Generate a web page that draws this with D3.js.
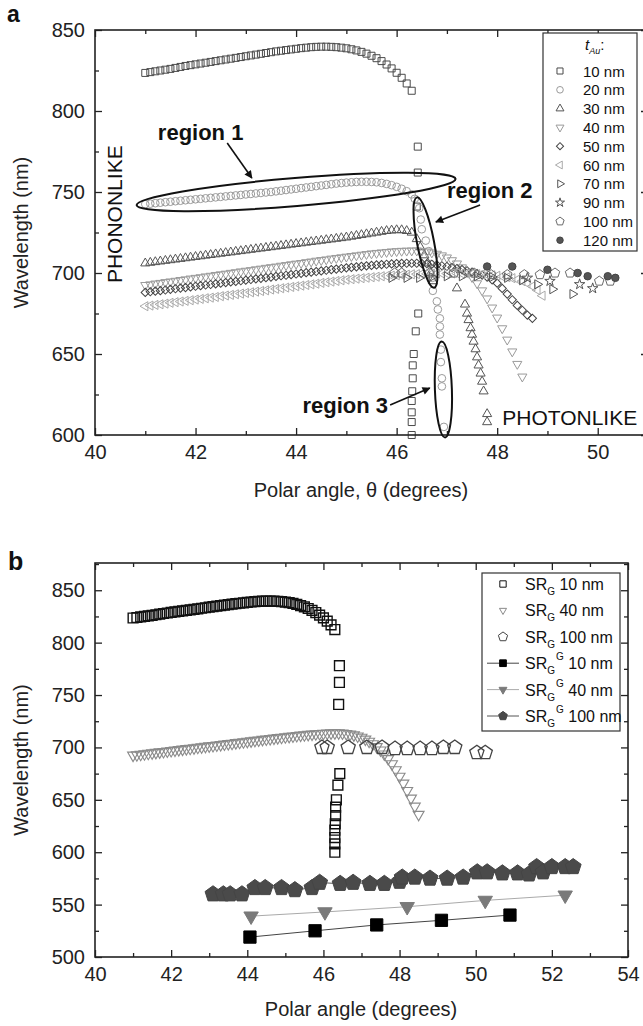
<!DOCTYPE html>
<html><head><meta charset="utf-8">
<script src="https://cdnjs.cloudflare.com/ajax/libs/d3/7.8.5/d3.min.js"></script>
<style>
html,body{margin:0;padding:0;background:#fff;}
svg{display:block;font-family:"Liberation Sans",Arial,Helvetica,sans-serif;}
</style></head><body>
<svg id="chart" width="643" height="1026"></svg>
<script>
// ---------------- DATA ----------------
// shared angle grid (degrees) for the densely sampled dispersion curves
const gridAngles = [
41.0,41.1,41.2,41.3,41.4,41.5,41.6,41.7,41.8,41.9,
42.0,42.1,42.2,42.3,42.4,42.5,42.6,42.7,42.8,42.9,
43.0,43.1,43.2,43.3,43.4,43.5,43.6,43.7,43.8,43.9,
44.0,44.1,44.2,44.3,44.4,44.5,44.6,44.7,44.8,44.9,
45.0,45.1,45.2,45.3,45.4,45.5,45.6,45.7,45.8,45.9,
46.0,46.1,46.2,46.3,46.4,46.5,46.6,46.7,46.8,46.9,
47.0,47.1,47.2,47.3,47.4,47.5,47.6,47.7,47.8,47.9,
48.0,48.1,48.2,48.3,48.4,48.5,48.6,48.7,48.8,48.9];

// t_Au = 10 nm (phononlike branch on grid, then the steep branch)
const wl10 = [
823.5,824,824.5,825,825.5,826,826.6,827.2,827.8,828.3,
828.8,829.3,829.8,830.3,830.8,831.3,831.8,832.3,832.8,833.3,
833.8,834.3,834.8,835.3,835.8,836.3,836.8,837.2,837.6,838,
838.4,838.8,839.1,839.4,839.6,839.7,839.7,839.6,839.4,839.1,
838.7,838.1,837.4,836.5,835.4,834.1,832.6,830.8,828.7,826.3,
823.6,820.5,817,812.5];
const tail10Angles = [46.42,46.42,46.4,46.43,46.38,46.34,46.32,46.32,46.31,46.3,46.3,46.3,46.3];
const tail10Wl = [778,762,741,675,664,650,643,635,627,621,614,608,600];

// 20 nm
const wl20 = [
742.5,742.8,743.1,743.4,743.7,744,744.3,744.6,744.9,745.2,
745.5,745.8,746.1,746.4,746.7,747,747.3,747.6,747.9,748.2,
748.5,748.8,749.1,749.4,749.7,750,750.4,750.8,751.2,751.6,
752,752.4,752.8,753.2,753.6,754,754.4,754.8,755.2,755.5,
755.8,756,756.2,756.3,756.3,756.2,756,755.6,755,754.2,
753.2,752,750.5,748.5];
const tail20Angles = [46.36,46.45,46.48,46.5,46.58,46.64,46.68,46.71,46.72,46.8,46.82,46.86,46.86,46.86,46.88,46.88,46.9,46.9,46.94];
const tail20Wl = [745.8,740,733,727,720,713.5,705.5,697,689,682.5,677.5,672,667,662,652.7,645,635,630,605];

// 30 nm
const wl30 = [
706,706.4,706.8,707.2,707.6,708,708.4,708.8,709.2,709.6,
710,710.4,710.8,711.2,711.6,712,712.4,712.8,713.2,713.6,
714,714.4,714.8,715.2,715.6,716,716.4,716.8,717.2,717.6,
718,718.4,718.8,719.2,719.6,720,720.4,720.8,721.2,721.6,
722,722.5,723,723.5,724,724.5,725,725.5,726,726.3,
726.5,726.5,726,725];
const tail30Angles = [46.4,46.47,46.55,46.62,46.68,46.72,47.2,47.36,47.4,47.43,47.47,47.5,47.53,47.57,47.6,47.63,47.67,47.7,47.73,47.8,47.8];
const tail30Wl = [721,716,711,706,700,695,690.6,680.6,675,671,666,662,657.7,653,648,643,638,633,627,613,608];

// 40 nm
const wl40 = [
692.5,692.9,693.4,693.8,694.3,694.7,695.1,695.6,696,696.5,
696.9,697.3,697.8,698.2,698.7,699.1,699.5,700,700.4,700.9,
701.3,701.7,702.2,702.6,703.1,703.5,703.9,704.4,704.8,705.3,
705.7,706.1,706.6,707,707.5,707.9,708.3,708.8,709.2,709.6,
710,710.4,710.8,711.2,711.6,712,712.3,712.6,712.9,713.2,
713.4,713.6,713.7,713.8,713.8,713.6,713.2,712.6,711.8,710.8,
709.5,707.8,705.8,703.4,700.6,697.4,693.6,689.2,684.2,678.6,
672.4,665.8,658.8,651.5,643.8,636];

// 50 nm
const wl50 = [
688,688.4,688.8,689.1,689.5,689.9,690.3,690.7,691,691.4,
691.8,692.2,692.6,692.9,693.3,693.7,694.1,694.5,694.8,695.2,
695.6,696,696.4,696.7,697.1,697.5,697.9,698.3,698.6,699,
699.4,699.8,700.2,700.5,700.9,701.3,701.7,702.1,702.4,702.8,
703.2,703.5,703.8,704.1,704.4,704.7,705,705.2,705.4,705.6,
705.8,705.9,706,706,706,705.9,705.7,705.4,705,704.5,
704,703.4,702.8,702.1,701.4,700.6,699.7,698.7,697.5,695.8,
693.7,690.5,687,683.5,680,677,674,672];

// 60 nm
const wl60 = [
679.5,679.9,680.3,680.7,681.1,681.6,682,682.4,682.8,683.2,
683.6,684,684.4,684.8,685.2,685.7,686.1,686.5,686.9,687.3,
687.7,688.1,688.5,688.9,689.3,689.8,690.2,690.6,691,691.4,
691.8,692.2,692.6,693,693.4,693.9,694.3,694.7,695.1,695.5,
695.9,696.2,696.5,696.8,697.1,697.4,697.7,698,698.2,698.4,
698.6,698.8,699,699.2,699.3,699.4,699.5,699.6,699.7,699.7,
699.7,699.7,699.7,699.6,699.5,699.4,699.3,699.1,698.9,698.6,
698.3,697.9,697.4,696.8,696,695,693.6,691.8,689.4,686];

// 70 nm
const angles70 = [45.9,46.2,46.45,46.7,47.0,47.3,47.6,47.9,48.2,48.5,48.8,49.1,49.5];
const wl70 = [697,697,697,697.5,698,698,698,697.5,697,695.5,693,690,687];
// 90 nm
const angles90 = [48.6,49.05,49.64,49.9];
const wl90 = [697,695,693,690.5];
// 100 nm
const angles100 = [45.96,46.1,46.65,47.14,47.54,47.88,48.2,48.54,48.85,49.15,49.45,50.03,50.25];
const wl100 = [700,700,700,700,700,699,699,699,699,700,700,695,695];
// 120 nm
const angles120 = [47.8,48.3,49.0,49.6,49.8,50.2,50.35];
const wl120 = [704,704,702,700,698,698,697];

// panel b : SR_G^G series
const angGG10 = [44.07,45.78,47.4,49.1,50.9];
const wlGG10 = [519,525,530.6,535,540];
const angGG40 = [44.1,46.04,48.2,50.25,52.35];
const wlGG40 = [539,543,548,554,559];
const angGG100 = [43.1,43.37,43.55,43.86,44.2,44.47,44.9,45.25,45.7,45.9,46.44,46.78,47.22,47.6,48.0,48.07,48.4,48.8,49.25,49.67,50.04,50.3,50.7,51.1,51.4,51.6,51.77,52.0,52.35,52.56];
const wlGG100 = [560,560,560,560,566,566,566,564,566,571,570,571,570,570,572,576,576,575,575,576,581,581,580,580,579,586,581,586,586,586];

const legendA = ["10 nm","20 nm","30 nm","40 nm","50 nm","60 nm","70 nm","90 nm","100 nm","120 nm"];
const legendB = [" 10 nm"," 40 nm"," 100 nm"," 10 nm"," 40 nm"," 100 nm"];
const xTicksA = [40,42,44,46,48,50];
const xMinorA = [41,43,45,47,49,51];
const yTicksA = [600,650,700,750,800,850];
const yMinorA = [625,675,725,775,825];
const xTicksB = [40,42,44,46,48,50,52,54];
const xMinorB = [41,43,45,47,49,51,53];
const yTicksB = [500,550,600,650,700,750,800,850];
const yMinorB = [525,575,625,675,725,775,825,875];

// ---------------- DRAWING ----------------
const svg = d3.select("#chart");
const A = {left:95, right:648, top:30, bottom:435};
const B = {left:95, right:628, top:563, bottom:957};
const xA = d3.scaleLinear().domain([40,51]).range([A.left,A.right]);
const yA = d3.scaleLinear().domain([600,850]).range([A.bottom,A.top]);
const xB = d3.scaleLinear().domain([40,54]).range([B.left,B.right]);
const yB = d3.scaleLinear().domain([500,876]).range([B.bottom,B.top]);

const pentagon = {draw(ctx,size){const r=Math.sqrt(size);for(let i=0;i<5;i++){const a=-Math.PI/2+i*2*Math.PI/5;const px=r*Math.cos(a),py=r*Math.sin(a);if(i===0)ctx.moveTo(px,py);else ctx.lineTo(px,py);}ctx.closePath();}};

function concat(a,b){return a.concat(b);}

function plotSeries(g,x,y,angles,wls,spec){
  const sym=d3.symbol().type(spec.type).size(spec.size);
  g.append("g").selectAll("path").data(d3.zip(angles,wls)).join("path")
    .attr("d",sym)
    .attr("transform",d=>`translate(${x(d[0])},${y(d[1])}) rotate(${spec.rot||0})`)
    .attr("fill",spec.fill||"none").attr("stroke",spec.stroke).attr("stroke-width",spec.sw||1);
}

function drawAxes(g,x,y,box,xt,xm,yt,ym){
  const fmt=d3.format("d");
  const styleAxis=sel=>{sel.select(".domain").remove();sel.selectAll("line").attr("stroke","#222").attr("stroke-width",1.3);
    sel.selectAll("text").attr("font-size",20).attr("fill","#222").attr("font-family",'"Liberation Sans",Arial,sans-serif');};
  g.append("g").attr("transform",`translate(0,${box.bottom})`).call(d3.axisBottom(x).tickValues(xt).tickSize(-7).tickPadding(10).tickFormat(fmt)).call(styleAxis);
  g.append("g").attr("transform",`translate(0,${box.bottom})`).call(d3.axisBottom(x).tickValues(xm).tickSize(-4).tickFormat("")).call(styleAxis);
  g.append("g").attr("transform",`translate(0,${box.top})`).call(d3.axisTop(x).tickValues(xt).tickSize(-7).tickFormat("")).call(styleAxis);
  g.append("g").attr("transform",`translate(0,${box.top})`).call(d3.axisTop(x).tickValues(xm).tickSize(-4).tickFormat("")).call(styleAxis);
  g.append("g").attr("transform",`translate(${box.left},0)`).call(d3.axisLeft(y).tickValues(yt).tickSize(-7).tickPadding(10).tickFormat(fmt)).call(styleAxis);
  g.append("g").attr("transform",`translate(${box.left},0)`).call(d3.axisLeft(y).tickValues(ym).tickSize(-4).tickFormat("")).call(styleAxis);
  g.append("g").attr("transform",`translate(${box.right},0)`).call(d3.axisRight(y).tickValues(yt).tickSize(-7).tickFormat("")).call(styleAxis);
  g.append("g").attr("transform",`translate(${box.right},0)`).call(d3.axisRight(y).tickValues(ym).tickSize(-4).tickFormat("")).call(styleAxis);
  g.append("rect").attr("x",box.left).attr("y",box.top).attr("width",box.right-box.left).attr("height",box.bottom-box.top)
    .attr("fill","none").attr("stroke","#222").attr("stroke-width",1.6);
}

// marker specs panel a
const specA = [
  {type:d3.symbolSquare,size:49,stroke:"#4a4a4a"},
  {type:d3.symbolCircle,size:46,stroke:"#9a9a9a"},
  {type:d3.symbolTriangle,size:36,stroke:"#555"},
  {type:d3.symbolTriangle,size:36,stroke:"#9a9a9a",rot:180},
  {type:d3.symbolSquare,size:34,stroke:"#444",rot:45},
  {type:d3.symbolTriangle,size:36,stroke:"#aaa",rot:-90},
  {type:d3.symbolTriangle,size:36,stroke:"#555",rot:90},
  {type:d3.symbolStar,size:34,stroke:"#555"},
  {type:pentagon,size:25,stroke:"#6a6a6a"},
  {type:d3.symbolCircle,size:44,stroke:"#444",fill:"#555"}
];

const gA = svg.append("g");
// markers
plotSeries(gA,xA,yA,concat(gridAngles.slice(0,wl10.length),tail10Angles),concat(wl10,tail10Wl),specA[0]);
plotSeries(gA,xA,yA,concat(gridAngles.slice(0,wl20.length),tail20Angles),concat(wl20,tail20Wl),specA[1]);
plotSeries(gA,xA,yA,concat(gridAngles.slice(0,wl30.length),tail30Angles),concat(wl30,tail30Wl),specA[2]);
plotSeries(gA,xA,yA,gridAngles.slice(0,wl40.length),wl40,specA[3]);
plotSeries(gA,xA,yA,gridAngles.slice(0,wl50.length),wl50,specA[4]);
plotSeries(gA,xA,yA,gridAngles.slice(0,wl60.length),wl60,specA[5]);
plotSeries(gA,xA,yA,angles70,wl70,specA[6]);
plotSeries(gA,xA,yA,angles90,wl90,specA[7]);
plotSeries(gA,xA,yA,angles100,wl100,specA[8]);
plotSeries(gA,xA,yA,angles120,wl120,specA[9]);
drawAxes(gA,xA,yA,A,xTicksA,xMinorA,yTicksA,yMinorA);

// annotations panel a
const defs=svg.append("defs");
defs.append("marker").attr("id","arr").attr("viewBox","0 0 10 10").attr("refX",9).attr("refY",5)
  .attr("markerWidth",10).attr("markerHeight",8).attr("markerUnits","userSpaceOnUse").attr("orient","auto")
  .append("path").attr("d","M0,0 L10,5 L0,10 z").attr("fill","#111");

function ellipse(g,cx,cy,rx,ry,rot){
  g.append("ellipse").attr("cx",0).attr("cy",0).attr("rx",rx).attr("ry",ry)
   .attr("transform",`translate(${cx},${cy}) rotate(${rot})`)
   .attr("fill","none").attr("stroke","#111").attr("stroke-width",2);
}
ellipse(gA,xA(44.0),yA(750),160,14,-4.7);
ellipse(gA,xA(46.575),yA(718.8),8.5,46,-10.8);
ellipse(gA,xA(46.93),yA(628.1),8.5,48,-2);

function arrow(g,x1,y1,x2,y2){
  g.append("line").attr("x1",x1).attr("y1",y1).attr("x2",x2).attr("y2",y2)
   .attr("stroke","#111").attr("stroke-width",1.6).attr("marker-end","url(#arr)");
}
arrow(gA,xA(42.63),yA(780.2),xA(43.12),yA(758.6));
arrow(gA,xA(47.66),yA(742),xA(46.78),yA(731.5));
arrow(gA,xA(45.87),yA(618.5),xA(46.66),yA(629));

function label(g,x,y,txt,opts){
  const t=g.append("text").attr("x",x).attr("y",y).text(txt)
   .attr("font-size",opts.size).attr("font-weight",opts.weight||"normal").attr("fill","#111")
   .attr("text-anchor",opts.anchor||"start");
  if(opts.rot) t.attr("transform",`rotate(${opts.rot},${x},${y})`);
  return t;
}
label(gA,xA(41.25),yA(782.1),"region 1",{size:22,weight:"bold"});
label(gA,xA(47.0),yA(746.3),"region 2",{size:22,weight:"bold"});
label(gA,xA(45.83),yA(613.6),"region 3",{size:22,weight:"bold",anchor:"end"});
label(gA,xA(40.54),yA(693.8),"PHONONLIKE",{size:21,rot:-90});
label(gA,xA(48.1),yA(606.2),"PHOTONLIKE",{size:21});

// legend a
const legA=gA.append("g");
legA.append("rect").attr("x",543).attr("y",33).attr("width",94).attr("height",218).attr("fill","#fff").attr("stroke","#333").attr("stroke-width",1.2);
const ttl=legA.append("text").attr("x",585).attr("y",50).attr("fill","#111").attr("font-style","italic");
ttl.append("tspan").attr("font-size",15).text("t");
ttl.append("tspan").attr("font-size",9).attr("dy",4).text("Au");
ttl.append("tspan").attr("font-size",15).attr("dy",-4).attr("font-style","normal").text(":");
legendA.forEach((name,i)=>{
  const yy=71+i*18.8, sp=specA[i];
  legA.append("path").attr("d",d3.symbol().type(sp.type).size(sp.size*0.75)())
    .attr("transform",`translate(560,${yy}) rotate(${sp.rot||0})`)
    .attr("fill",sp.fill||"none").attr("stroke",sp.stroke).attr("stroke-width",1);
  legA.append("text").attr("x",583).attr("y",yy+5.5).attr("font-size",15).attr("fill","#111").text(name);
});

// axis titles panel a
svg.append("text").attr("x",361).attr("y",497).attr("text-anchor","middle").attr("font-size",20).attr("fill","#222").text("Polar angle, θ (degrees)");
svg.append("text").attr("transform",`translate(28,${(A.top+A.bottom)/2}) rotate(-90)`).attr("text-anchor","middle").attr("font-size",20).attr("fill","#222").text("Wavelength (nm)");
svg.append("text").attr("x",7).attr("y",22).attr("font-size",23).attr("font-weight","bold").attr("fill","#111").text("a");

// ---------------- PANEL B ----------------
const gB = svg.append("g");
const specB = [
  {type:d3.symbolSquare,size:96,stroke:"#111",sw:1.4},
  {type:d3.symbolTriangle,size:52,stroke:"#8a8a8a",rot:180,sw:1.1},
  {type:pentagon,size:56,stroke:"#444",sw:1.3},
  {type:d3.symbolSquare,size:150,stroke:"#000",fill:"#000"},
  {type:d3.symbolTriangle,size:90,stroke:"#7a7a7a",fill:"#7a7a7a",rot:180},
  {type:pentagon,size:70,stroke:"#454545",fill:"#4a4a4a"}
];
const lineColB=["#444","#aaa","#555"];
const line=d3.line().x(d=>xB(d[0])).y(d=>yB(d[1]));
gB.append("path").attr("d",line(d3.zip(angGG10,wlGG10))).attr("fill","none").attr("stroke",lineColB[0]).attr("stroke-width",1);
gB.append("path").attr("d",line(d3.zip(angGG40,wlGG40))).attr("fill","none").attr("stroke",lineColB[1]).attr("stroke-width",1);
gB.append("path").attr("d",line(d3.zip(angGG100,wlGG100))).attr("fill","none").attr("stroke",lineColB[2]).attr("stroke-width",1);
plotSeries(gB,xB,yB,concat(gridAngles.slice(0,wl10.length),tail10Angles),concat(wl10,tail10Wl),specB[0]);
plotSeries(gB,xB,yB,gridAngles.slice(0,wl40.length),wl40,specB[1]);
plotSeries(gB,xB,yB,angles100,wl100,specB[2]);
plotSeries(gB,xB,yB,angGG10,wlGG10,specB[3]);
plotSeries(gB,xB,yB,angGG40,wlGG40,specB[4]);
plotSeries(gB,xB,yB,angGG100,wlGG100,specB[5]);
drawAxes(gB,xB,yB,B,xTicksB,xMinorB,yTicksB,yMinorB);

// legend b
const legB=gB.append("g");
legB.append("rect").attr("x",482).attr("y",573).attr("width",138).attr("height",158).attr("fill","#fff").attr("stroke","#333").attr("stroke-width",1.2);
legendB.forEach((name,i)=>{
  const yy=584+i*26.4, sp=specB[i];
  if(i>=3){
    legB.append("line").attr("x1",487).attr("x2",519).attr("y1",yy).attr("y2",yy).attr("stroke",lineColB[i-3]).attr("stroke-width",1);
  }
  legB.append("path").attr("d",d3.symbol().type(sp.type).size(i>=3?sp.size*0.3:sp.size*0.42)())
    .attr("transform",`translate(503,${yy}) rotate(${sp.rot||0})`)
    .attr("fill",sp.fill||"#fff").attr("stroke",sp.stroke).attr("stroke-width",1);
  const t=legB.append("text").attr("x",525).attr("y",yy+6).attr("font-size",16).attr("fill","#111");
  t.append("tspan").text("SR");
  t.append("tspan").attr("font-size",10).attr("dy",5).text("G");
  if(i>=3){
    t.append("tspan").attr("font-size",10).attr("dx",1).attr("dy",-14).text("G");
    t.append("tspan").attr("dy",9).text(name);
  } else {
    t.append("tspan").attr("dy",-5).text(name);
  }
});

svg.append("text").attr("x",361).attr("y",1016).attr("text-anchor","middle").attr("font-size",20).attr("fill","#222").text("Polar angle (degrees)");
svg.append("text").attr("transform",`translate(28,${(B.top+B.bottom)/2}) rotate(-90)`).attr("text-anchor","middle").attr("font-size",20).attr("fill","#222").text("Wavelength (nm)");
svg.append("text").attr("x",8).attr("y",570).attr("font-size",25).attr("font-weight","bold").attr("fill","#111").text("b");
</script>
</body></html>
